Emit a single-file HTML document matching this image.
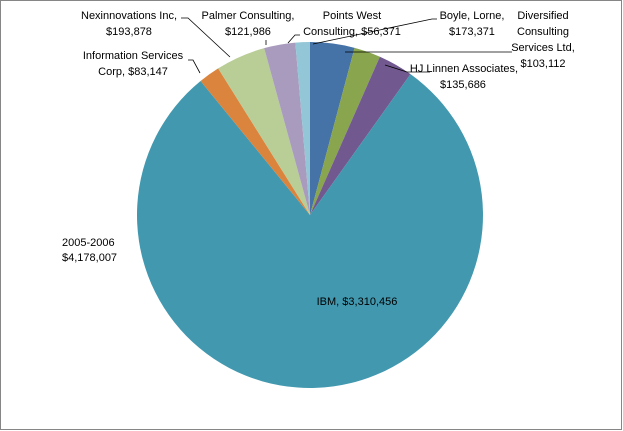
<!DOCTYPE html>
<html><head><meta charset="utf-8"><style>
html,body{margin:0;padding:0;background:#fff}
svg{display:block}
text{font-family:"Liberation Sans",sans-serif;font-size:11px;fill:#000}
</style></head><body>
<svg id="s" width="623" height="431" viewBox="0 0 623 431">
<rect x="0.5" y="0.5" width="621" height="429" fill="#fff" stroke="#868686"/>
<g id="p"></g>
<g stroke="#000" stroke-width="0.8" fill="none">
<polyline points="313,44 432,19 437,19"/>
<polyline points="345,52 512,52"/>
<polyline points="385,65 407,72 430,72"/>
<polyline points="288,43 295,35 300,35"/>
<polyline points="266,45 266,40"/>
<polyline points="230,57 188,18 181,18"/>
<polyline points="200,73 193,60 188,60"/>
</g>
<g text-anchor="middle">
<text x="129" y="19">Nexinnovations Inc,</text><text x="129" y="35">$193,878</text>
<text x="248" y="19">Palmer Consulting,</text><text x="248" y="35">$121,986</text>
<text x="352" y="19">Points West</text><text x="352" y="35">Consulting, $56,371</text>
<text x="472" y="19">Boyle, Lorne,</text><text x="472" y="35">$173,371</text>
<text x="543" y="19">Diversified</text><text x="543" y="35">Consulting</text><text x="543" y="51">Services Ltd,</text><text x="543" y="67">$103,112</text>
<text x="464" y="72">HJ Linnen Associates,</text><text x="463" y="88">$135,686</text>
<text x="133" y="59">Information Services</text><text x="133" y="75">Corp, $83,147</text>
<text x="357" y="305">IBM, $3,310,456</text>
</g>
<text x="62" y="246">2005-2006</text>
<text x="62" y="261">$4,178,007</text>
</svg>
<script>
var d=[[173371,"#4572A7"],[103112,"#89A54E"],[135686,"#71588F"],[3310456,"#4198AF"],[83147,"#DB843D"],[193878,"#B9CD96"],[121986,"#A99BBD"],[56371,"#93C6D6"]];
var t=0;d.forEach(function(x){t+=x[0]});
var cx=310,cy=215,r=173,a=0,g=document.getElementById('p'),h='';
d.forEach(function(x){var b=a+x[0]/t*2*Math.PI;
var x1=cx+r*Math.sin(a),y1=cy-r*Math.cos(a),x2=cx+r*Math.sin(b),y2=cy-r*Math.cos(b);
h+='<path d="M'+cx+','+cy+'L'+x1+','+y1+'A'+r+','+r+' 0 '+((b-a)>Math.PI?1:0)+' 1 '+x2+','+y2+'Z" fill="'+x[1]+'"/>';a=b;});
g.innerHTML=h;
</script>
</body></html>
